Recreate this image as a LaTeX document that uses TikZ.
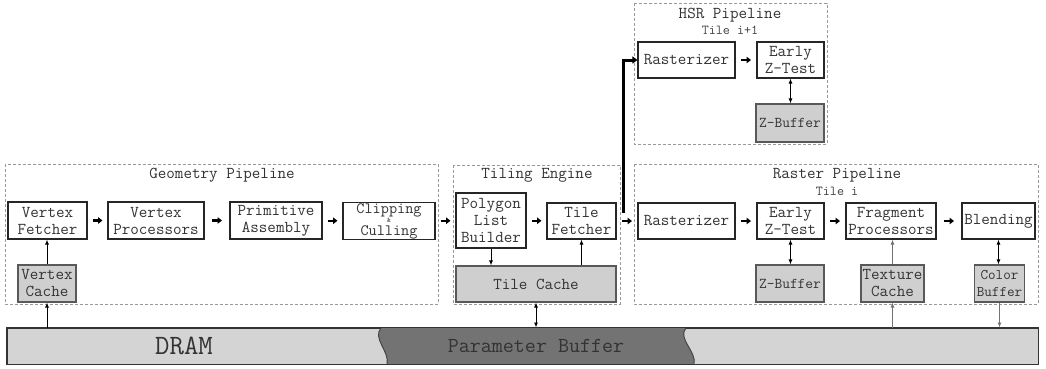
\documentclass[tikz,border=0pt]{standalone}
\usetikzlibrary{arrows.meta,calc}

\begin{document}
\begin{tikzpicture}[x=1pt,y=-1pt,
  box/.style={draw=black!85, line width=1.1pt, fill=white, inner sep=0pt, align=center,
              font=\ttfamily\fontsize{16.6}{17}\selectfont, text=black!80},
  store/.style={box, fill=black!19, draw=black!65},
  group/.style={draw=black!40, dash pattern=on 3pt off 2pt, line width=0.8pt},
  title/.style={font=\ttfamily\fontsize{16.6}{17}\selectfont, text=black!80},
  sub/.style={font=\ttfamily\fontsize{13.7}{14}\selectfont, text=black!75},
  flow/.style={line width=2.2pt, -{Triangle[length=4.5pt,width=6.5pt]}},
  link/.style={line width=0.9pt, -{Latex[length=5pt,width=4pt]}},
  biflow/.style={line width=0.9pt, {Latex[length=5pt,width=4pt]}-{Latex[length=5pt,width=4pt]}},
]
\useasboundingbox (0,0) rectangle (1046,368);

% ---- pipeline groups ----
\draw[group] (5,164) rectangle (438,304);
\draw[group] (453,165) rectangle (620,304);
\draw[group] (634,3) rectangle (827,144);
\draw[group] (634,164) rectangle (1038,304);

\node[title] (tgeo) at (222,175) {Geometry Pipeline};
\node[title] (ttil) at (537,175) {Tiling Engine};
\node[title] (thsr) at (730,15) {HSR Pipeline};
\node[sub]   (shsr) at (730,30) {Tile i+1};
\node[title] (tras) at (837,175) {Raster Pipeline};
\node[sub]   (sras) at (837,191) {Tile i};

% ---- geometry pipeline ----
\node[box, minimum width=79pt, minimum height=37pt] (vf) at (47.5,220.5) {Vertex\\Fetcher};
\node[box, minimum width=96pt, minimum height=37pt] (vp) at (156,220.5) {Vertex\\Processors};
\node[box, minimum width=92pt, minimum height=37pt] (pa) at (276,220.5) {Primitive\\Assembly};
\node[box, minimum width=92pt, minimum height=37pt, font=\ttfamily\fontsize{15.8}{16}\selectfont] (cc) at (389,221) {Clipping\\[6pt]Culling};
\node[font=\ttfamily\fontsize{7}{7}\selectfont, text=black!80, inner sep=0pt] (amp) at ([yshift=1pt]cc.center) {\&};
\node[store, minimum width=58pt, minimum height=37pt] (vc) at (47,283.5) {Vertex\\Cache};

% ---- tiling engine ----
\node[box, minimum width=70pt, minimum height=55pt] (pl) at (491,220.5) {Polygon\\List\\Builder};
\node[box, minimum width=69pt, minimum height=36pt] (tf) at (581.5,221) {Tile\\Fetcher};
\node[store, minimum width=160pt, minimum height=36pt] (tc) at (536,284) {Tile Cache};

% ---- HSR pipeline ----
\node[box, minimum width=97pt, minimum height=36pt] (hr) at (686.5,60) {Rasterizer};
\node[box, minimum width=67pt, minimum height=36pt] (hz) at (790.5,60) {Early\\Z-Test};
\node[store, minimum width=68pt, minimum height=38pt, font=\ttfamily\fontsize{15}{16}\selectfont] (hzb) at (790,123) {Z-Buffer};

% ---- raster pipeline ----
\node[box, minimum width=97pt, minimum height=36pt] (rr) at (686.5,221) {Rasterizer};
\node[box, minimum width=67pt, minimum height=36pt] (rz) at (790.5,221) {Early\\Z-Test};
\node[box, minimum width=90pt, minimum height=36pt] (fp) at (891,221) {Fragment\\Processors};
\node[box, minimum width=73pt, minimum height=36pt] (bl) at (998.5,221) {Blending};
\node[store, minimum width=68pt, minimum height=37pt, font=\ttfamily\fontsize{15}{16}\selectfont] (rzb) at (790,283.5) {Z-Buffer};
\node[store, minimum width=63pt, minimum height=37pt] (tx) at (892.5,283.5) {Texture\\Cache};
\node[store, minimum width=50pt, minimum height=37pt, font=\ttfamily\fontsize{14.7}{17}\selectfont] (cb) at (999.5,283.5) {Color\\Buffer};

% ---- memory bar ----
\node[draw=black!80, line width=1pt, fill=black!17, minimum width=1031pt, minimum height=36pt, inner sep=0pt] (dram) at (522.5,346) {};
\fill[black!55]
  (381,328) -- (686,328)
  .. controls (677,338) and (697,352) .. (694,364)
  -- (387,364)
  .. controls (390,352) and (372,338) .. (381,328) -- cycle;
\draw[black!75, line width=0.9pt] (381,328) .. controls (372,338) and (390,352) .. (387,364);
\draw[black!75, line width=0.9pt] (686,328) .. controls (677,338) and (697,352) .. (694,364);
\draw[black!80, line width=1pt] (dram.north west) rectangle (dram.south east);
\node[font=\ttfamily\fontsize{28}{28}\selectfont, text=black!80] (dlabel) at (184,346) {DRAM};
\node[font=\ttfamily\fontsize{21.4}{22}\selectfont, text=black!80] (plabel) at (536,346) {Parameter Buffer};

% ---- data flow between stages ----
\foreach \a/\b in {vf/vp, vp/pa, pa/cc, cc/pl, pl/tf, tf/rr, hr/hz, rr/rz, rz/fp, fp/bl}
  \draw[flow] ($(\a.east)!0.5!(\b.west)+(-5,0)$) -- ++(10,0);

% tile i+1 goes to the HSR pipeline
\coordinate (branch) at (623,213);
\draw[line width=3pt, -{Triangle[length=5pt,width=7pt]}] (branch) |- (hr.west);

% ---- memory traffic ----
\draw[link] (vc.north) -- (vc.north |- vf.south);
\draw[link] (vc.south |- dram.north) -- (vc.south);
\draw[link] (pl.south) -- (pl.south |- tc.north);
\draw[link] (tf.south |- tc.north) -- (tf.south);
\draw[biflow] (tc.south) -- (tc.south |- dram.north);
\draw[biflow] (hz.south) -- (hz.south |- hzb.north);
\draw[biflow] (rz.south) -- (rz.south |- rzb.north);
\draw[link, black!55] (tx.north) -- (tx.north |- fp.south);
\draw[link, black!55] (tx.south |- dram.north) -- (tx.south);
\draw[biflow] (bl.south) -- (bl.south |- cb.north);
\draw[link, black!55] (cb.south) -- (cb.south |- dram.north);
\end{tikzpicture}
\end{document}
